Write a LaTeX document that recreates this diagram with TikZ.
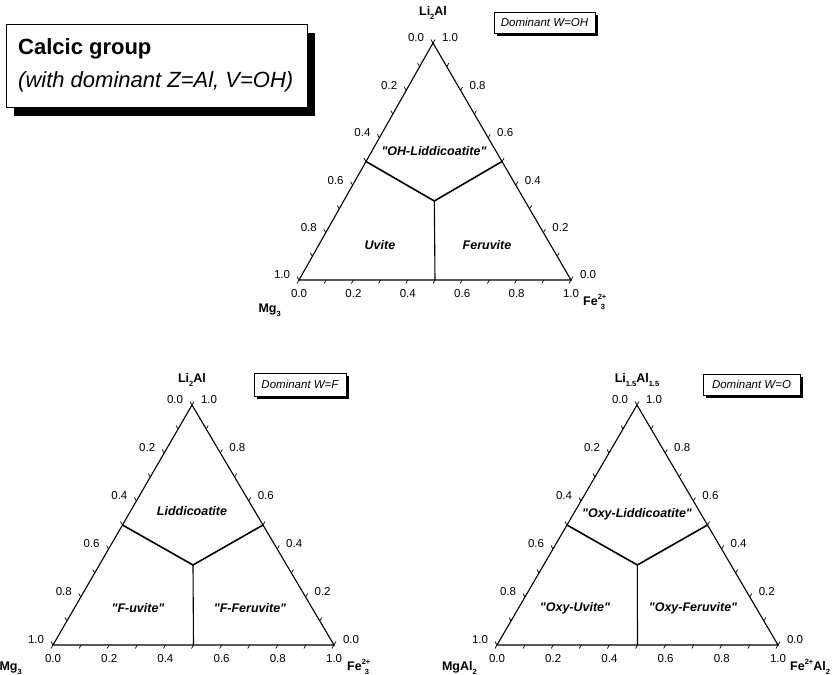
\documentclass[tikz,border=0pt]{standalone}
\usepackage{fontspec}
\setmainfont{Liberation Sans}
\newfontfamily\qfont{Liberation Sans}
\usetikzlibrary{calc,shadows}
\newcommand{\dq}{{\qfont"}}
\newcommand{\lowidx}[1]{\raisebox{-0.3em}{\fontsize{7.5}{8}\selectfont #1}}
\newcommand{\upidx}[1]{\raisebox{0.5em}{\fontsize{7.5}{8}\selectfont #1}}
\newcommand{\ternplot}[6]{%
  \coordinate (#1A) at (#2,#3);
  \coordinate (#1B) at (#4,#6);
  \coordinate (#1C) at (#5,#6);
  \coordinate (#1L) at ($(#1A)!0.5!(#1B)$);
  \coordinate (#1R) at ($(#1A)!0.5!(#1C)$);
  \coordinate (#1M) at ($(#1B)!0.5!(#1C)$);
  \coordinate (#1O) at (barycentric cs:#1A=1,#1B=1,#1C=1);
  \foreach \i in {0,...,10}{
    \pgfmathsetmacro\tt{\i/10}
    \draw[tickmk] ($(#1A)!\tt!(#1B)$) -- ++(-2,-3.46);
    \draw[tickmk] ($(#1A)!\tt!(#1C)$) -- ++(2,-3.46);
    \draw[tickmk] ($(#1B)!\tt!(#1C)$) -- ++(-2,3.46);
  }
  \draw[sideln] (#1A) -- (#1B) -- (#1C) -- cycle;
  \draw[yln] (#1L) -- (#1O) -- (#1R);
  \draw[vln] (#1O) -- (#1M);
  \foreach \t/\lab [count=\k] in {0/0.0,0.2/0.2,0.4/0.4,0.6/0.6,0.8/0.8,1/1.0}{
    \node[num] (#1l\k) at ($(#1A)!\t!(#1B)+(-17,-5)$) {\lab};
    \node[num] (#1b\k) at ($(#1B)!\t!(#1C)+(0,13.5)$) {\lab};
  }
  \foreach \t/\lab [count=\k] in {0/1.0,0.2/0.8,0.4/0.6,0.6/0.4,0.8/0.2,1/0.0}{
    \node[num] (#1r\k) at ($(#1A)!\t!(#1C)+(17,-5)$) {\lab};
  }
}
\begin{document}
\begin{tikzpicture}[x=1pt,y=-1pt,
  sideln/.style={line width=1.1pt},
  yln/.style={line width=1.6pt},
  vln/.style={line width=1.1pt},
  tickmk/.style={line width=0.7pt},
  num/.style={font=\fontsize{11.5}{12}\selectfont, inner sep=0pt},
  reg/.style={font=\fontsize{12.5}{13}\selectfont\bfseries\itshape, inner sep=0pt},
  axl/.style={font=\fontsize{12.5}{13}\selectfont\bfseries, inner sep=0pt},
  dombox/.style={draw, fill=white, line width=0.6pt, inner sep=0pt,
    font=\fontsize{11.5}{12}\selectfont\itshape,
    drop shadow={shadow xshift=3pt, shadow yshift=-3pt, fill=black, opacity=1}},
  titlebox/.style={draw, fill=white, line width=1pt, inner sep=0pt,
    minimum width=301pt, minimum height=83pt,
    drop shadow={shadow xshift=8pt, shadow yshift=-9pt, fill=black, opacity=1}}
]
\useasboundingbox (0,0) rectangle (836,675);

% title
\node[titlebox] (title) at (156.5,65.5) {};
\node[anchor=base west, inner sep=0pt, font=\fontsize{22}{26}\selectfont\bfseries] (t1) at (18,54) {Calcic group};
\node[anchor=base west, inner sep=0pt, font=\fontsize{22}{26}\selectfont\itshape] (t2) at (18,87) {(with dominant Z=Al, V=OH)};

% top diagram
\ternplot{T}{433}{43}{299}{571}{280}
\node[axl] (Ttop) at (433,13) {Li\lowidx{2}Al};
\node[axl, anchor=east] (Tleft) at (281,310) {Mg\lowidx{3}};
\node[axl, anchor=west] (Tright) at (583,302) {Fe\rlap{\upidx{2+}}\hspace{3pt}\lowidx{3}};
\node[reg] (Tg1) at (434,151) {\dq OH-Liddicoatite\dq};
\node[reg] (Tg2) at (380,245) {Uvite};
\node[reg] (Tg3) at (487,245) {Feruvite};
\node[dombox, minimum width=101pt, minimum height=21pt] (Tbox) at (544.5,22.5) {Dominant W=OH};

% bottom left diagram
\ternplot{P}{192}{405}{53}{334}{645}
\node[axl] (Ptop) at (192,380) {Li\lowidx{2}Al};
\node[axl, anchor=east] (Pleft) at (22,668) {Mg\lowidx{3}};
\node[axl, anchor=west] (Pright) at (347,667) {Fe\rlap{\upidx{2+}}\hspace{3pt}\lowidx{3}};
\node[reg] (Pg1) at (192,511) {Liddicoatite};
\node[reg] (Pg2) at (138,608) {\dq F-uvite\dq};
\node[reg] (Pg3) at (250,608) {\dq F-Feruvite\dq};
\node[dombox, minimum width=92pt, minimum height=23pt] (Pbox) at (300,384.5) {Dominant W=F};

% bottom right diagram
\ternplot{Q}{637}{405}{497}{778}{645}
\node[axl] (Qtop) at (637,380) {Li\lowidx{1.5}Al\lowidx{1.5}};
\node[axl, anchor=east] (Qleft) at (477,668) {MgAl\lowidx{2}};
\node[axl, anchor=west] (Qright) at (790,667) {Fe\upidx{2+}Al\lowidx{2}};
\node[reg] (Qg1) at (637,514) {\dq Oxy-Liddicoatite\dq};
\node[reg] (Qg2) at (575,608) {\dq Oxy-Uvite\dq};
\node[reg] (Qg3) at (693,608) {\dq Oxy-Feruvite\dq};
\node[dombox, minimum width=97pt, minimum height=21pt] (Qbox) at (751.5,384.5) {Dominant W=O};
\end{tikzpicture}
\end{document}
